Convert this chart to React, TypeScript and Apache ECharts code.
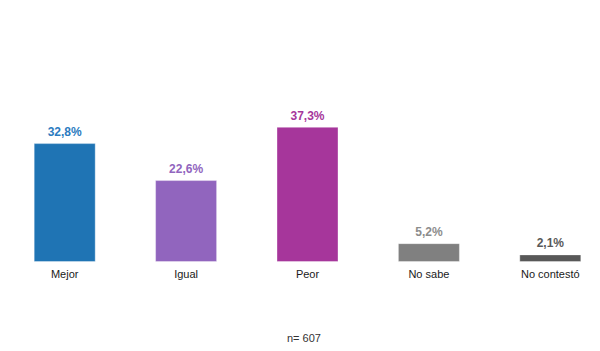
import React, { useEffect, useRef } from "react";
import * as echarts from "echarts";

const categories = ["Mejor", "Igual", "Peor", "No sabe", "No contestó"];
const values = [32.8, 22.6, 37.3, 5.2, 2.1];
const barColors = ["#1F74B4", "#9165BE", "#A6369B", "#808080", "#585858"];
const labelColors = ["#2B7BC0", "#9165BE", "#A6369B", "#8C8C8C", "#595959"];
const footnote = "n= 607";

export default function App() {
  const ref = useRef<HTMLDivElement>(null);
  useEffect(() => {
    if (!ref.current) return;
    const chart = echarts.init(ref.current, null, { renderer: "svg" });
    chart.setOption({
      animation: false,
      backgroundColor: "#ffffff",
      textStyle: { fontFamily: "Liberation Sans, Arial, sans-serif" },
      grid: { left: 4, right: 1, top: 117, bottom: 89, containLabel: false },
      xAxis: {
        type: "category",
        data: categories,
        axisLine: { show: false },
        axisTick: { show: false },
        axisLabel: { color: "#1a1a1a", fontSize: 11, margin: 6 },
      },
      yAxis: {
        type: "value",
        min: 0,
        max: 40,
        show: false,
        splitLine: { show: false },
      },
      series: [
        {
          type: "bar",
          barWidth: 62,
          data: values.map((v, i) => ({
            value: v,
            itemStyle: { color: barColors[i], borderColor: "rgba(255,255,255,0.35)", borderWidth: 1 },
            label: { color: labelColors[i] },
          })),
          label: {
            show: true,
            position: "top",
            distance: 5,
            fontSize: 12,
            fontWeight: "bold",
            formatter: (p: any) => String(p.value).replace(".", ",") + "%",
          },
        },
      ],
      graphic: [
        {
          type: "text",
          left: 287,
          top: 332,
          style: { text: footnote, fontSize: 11, fill: "#333333", fontFamily: "Liberation Sans, Arial, sans-serif" },
        },
      ],
    });
    return () => chart.dispose();
  }, []);
  return (
    <div style={{ position: "absolute", left: 0, top: 0, width: 600, height: 351, overflow: "hidden" }}>
      <div ref={ref} style={{ width: 612, height: 351 }} />
    </div>
  );
}
